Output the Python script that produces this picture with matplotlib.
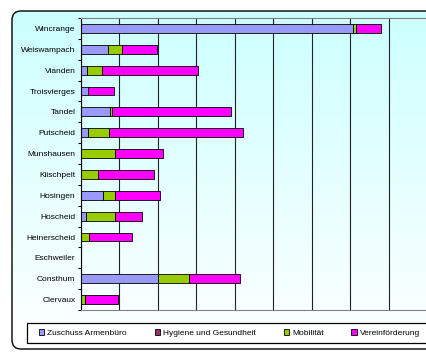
import numpy as np
import matplotlib.pyplot as plt
from matplotlib.patches import FancyBboxPatch, Rectangle, Patch
from matplotlib.colors import LinearSegmentedColormap

plt.rcParams["font.family"] = ["Liberation Sans", "DejaVu Sans"]

# ── data (bottom to top, as drawn) ─────────────
gemeinden = ["Clervaux", "Consthum", "Eschweiler", "Heinerscheid", "Hoscheid",
             "Hosingen", "Kiischpelt", "Munshausen", "Putscheid", "Tandel",
             "Troisvierges", "Vianden", "Weiswampach", "Wincrange"]
armenbuero = [0, 9960, 0, 0, 610, 2800, 0, 0, 870, 3800, 950, 800, 3500, 35400]
hygiene    = [0, 0, 0, 0, 0, 0, 0, 0, 0, 0, 0, 0, 0, 0]
mobilitaet = [480, 4120, 0, 1000, 3770, 1560, 2170, 4450, 2800, 260, 0, 1900, 1800, 400]
verein     = [4380, 6620, 0, 5590, 3600, 5970, 7270, 6150, 17400, 15500, 3350, 12500, 4600, 3200]

series_names  = ["Zuschuss Armenbüro", "Hygiene und Gesundheit", "Mobilität", "Vereinförderung"]
series_values = [armenbuero, hygiene, mobilitaet, verein]
series_colors = ["#9999FF", "#993366", "#99CC00", "#FF00FF"]

# ── figure + gradient background ───────────────
W, H = 427, 353
fig = plt.figure(figsize=(W / 100, H / 100), dpi=100)
fig.patch.set_facecolor("white")

bg = fig.add_axes([0, 0, 1, 1], zorder=0)
bg.set_xlim(0, W); bg.set_ylim(H, 0); bg.axis("off")
frame = FancyBboxPatch((12, 11), 440, 338, boxstyle="round,pad=0,rounding_size=9",
                       fc="none", ec="black", lw=1.0, zorder=3)
bg.add_patch(frame)
grad = np.linspace(0, 1, 256).reshape(-1, 1)
cmap = LinearSegmentedColormap.from_list("bg", ["#CCFFFF", "#FFFFFF"])
img = bg.imshow(grad, cmap=cmap, extent=(12, 452, 349, 11), aspect="auto", zorder=1)
img.set_clip_path(frame)
bg.add_patch(Rectangle((27, 323), 400, 20, fc="white", ec="black", lw=0.9, zorder=2))

# ── bars ───────────────────────────────────────
ax = fig.add_axes([81 / W, 1 - 310 / H, (W - 81) / W, (310 - 18) / H], zorder=2)
ax.set_facecolor("none")
y = np.arange(len(gemeinden))
left = np.zeros(len(gemeinden))
for name, vals, col in zip(series_names, series_values, series_colors):
    vals = np.array(vals, dtype=float)
    ax.barh(y, vals, left=left, height=0.42, color=col, edgecolor="black",
            linewidth=0.6, label=name)
    left += vals

ax.set_xlim(0, 45000)
ax.set_xticks(np.arange(0, 45001, 5000))
ax.tick_params(axis="x", length=0, labelbottom=False)
ax.grid(axis="x", color="#222222", lw=0.8)
ax.set_axisbelow(True)

ax.set_ylim(-0.5, len(gemeinden) - 0.5)
ax.set_yticks(y)
ax.set_yticklabels(gemeinden, fontsize=6)
ax.set_yticks(np.arange(-0.5, len(gemeinden), 1), minor=True)
ax.tick_params(axis="y", which="major", length=0, pad=4)
ax.tick_params(axis="y", which="minor", length=2.5, width=0.8, color="black")

ax.spines["left"].set_color("black")
for s in ["top", "right", "bottom"]:
    ax.spines[s].set_color("#808080")

# ── legend ─────────────────────────────────────
handles = [Patch(fc=c, ec="black", lw=0.6) for c in series_colors]
fig.legend(handles, series_names, ncol=4, loc="center",
           bbox_to_anchor=(229.5 / W, 1 - 333 / H), frameon=False, fontsize=6,
           handlelength=0.7, handleheight=0.7, handletextpad=0.35,
           columnspacing=3.3, borderpad=0, borderaxespad=0)

plt.savefig("out.png", dpi=100)
